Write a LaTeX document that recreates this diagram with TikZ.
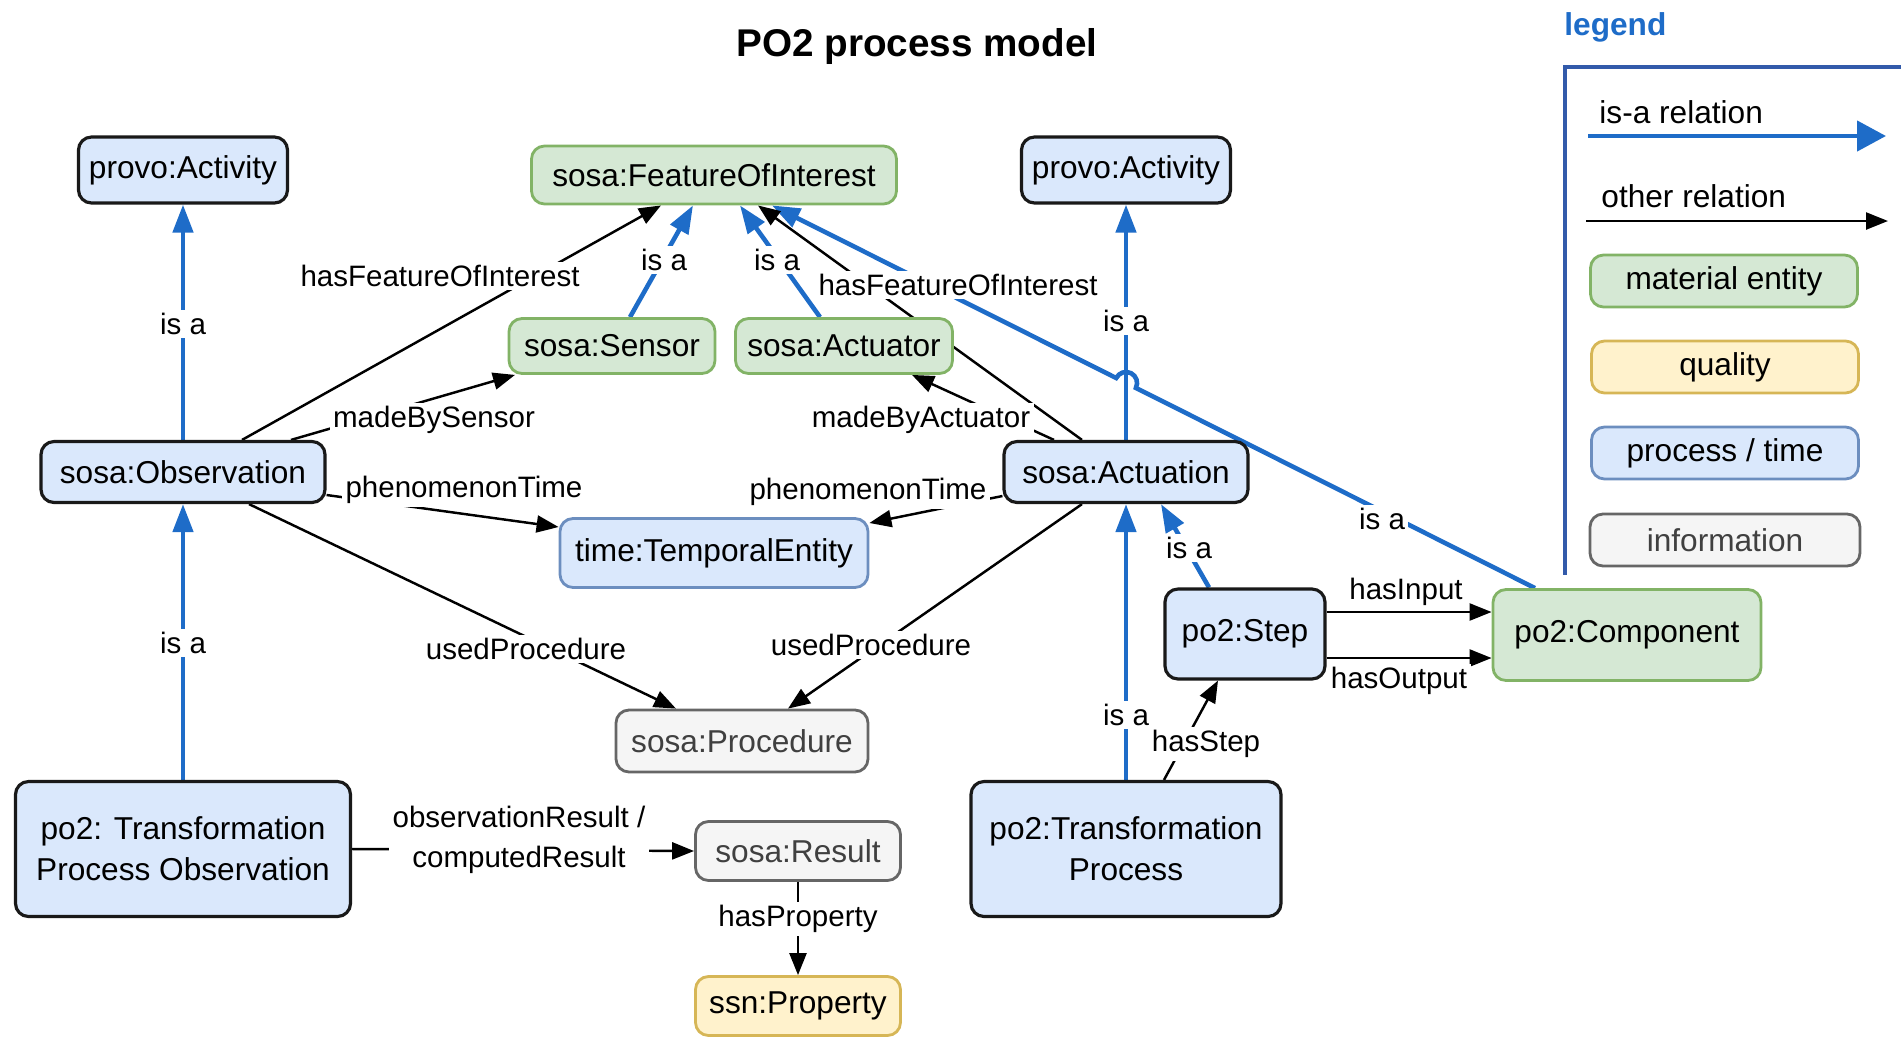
\documentclass[tikz,border=0pt]{standalone}
\usepackage{fontspec}
\setmainfont{Liberation Sans}
\definecolor{isablue}{RGB}{30,108,200}
\definecolor{legendblue}{RGB}{50,90,170}
\definecolor{bluefill}{HTML}{DAE8FC}
\definecolor{blueline}{HTML}{6C8EBF}
\definecolor{greenfill}{HTML}{D5E8D4}
\definecolor{greenline}{HTML}{82B366}
\definecolor{yellowfill}{HTML}{FFF2CC}
\definecolor{yellowline}{HTML}{D6B656}
\definecolor{grayfill}{HTML}{F5F5F5}
\definecolor{grayline}{HTML}{666666}
\newcommand{\boxfont}{\fontsize{9}{11.6}\selectfont}
\newcommand{\lblfont}{\fontsize{8.4}{11.4}\selectfont}
\usetikzlibrary{
  arrows.meta,
  calc,
  backgrounds
}

\begin{document}
\begin{tikzpicture}[
  cls/.style={rounded corners=1.3mm, inner sep=0pt, align=center, font=\boxfont},
  wh/.style 2 args={minimum width=#1cm, minimum height=#2cm},
  procbox/.style={cls, draw=black!90, fill=bluefill, line width=0.9pt},
  timebox/.style={cls, draw=blueline, fill=bluefill, line width=0.8pt},
  matbox/.style={cls, draw=greenline, fill=greenfill, line width=0.8pt},
  qualbox/.style={cls, draw=yellowline, fill=yellowfill, line width=0.8pt},
  infobox/.style={cls, draw=grayline, fill=grayfill, line width=0.8pt, text=black!75},
  isa/.style={draw=isablue, line width=1.3pt, -{Triangle[length=2.8mm, width=2mm]}},
  rel/.style={draw=black, line width=0.7pt, -{Triangle[length=2.2mm, width=1.7mm]}},
  lbl/.style={fill=white, inner sep=1pt, font=\lblfont, align=center}
]
\useasboundingbox (0,0) rectangle (19.01,-10.47);

\node[font=\bfseries\fontsize{11}{13}\selectfont] (title) at (9.17,-0.46) {PO2 process model};

\node[procbox, wh={2.09}{0.66}] (actL) at (1.83,-1.70) {provo:Activity};
\node[matbox, wh={3.65}{0.58}] (foi) at (7.14,-1.75) {sosa:FeatureOfInterest};
\node[procbox, wh={2.09}{0.66}] (actR) at (11.26,-1.70) {provo:Activity};
\node[matbox, wh={2.06}{0.55}] (sensor) at (6.12,-3.46) {sosa:Sensor};
\node[matbox, wh={2.17}{0.55}] (actuator) at (8.44,-3.46) {sosa:Actuator};
\node[procbox, wh={2.84}{0.61}] (obs) at (1.83,-4.72) {sosa:Observation};
\node[procbox, wh={2.44}{0.61}] (actuation) at (11.26,-4.72) {sosa:Actuation};
\node[timebox, wh={3.08}{0.69}] (temporal) at (7.14,-5.53) {time:TemporalEntity};
\node[procbox, wh={1.60}{0.90}] (step) at (12.45,-6.34) {po2:Step};
\node[matbox, wh={2.68}{0.91}] (comp) at (16.27,-6.35) {po2:Component};
\node[infobox, wh={2.52}{0.62}] (proc) at (7.42,-7.41) {sosa:Procedure};
\node[procbox, wh={3.35}{1.35}] (tpo) at (1.83,-8.49) {po2: Transformation\\Process Observation};
\node[infobox, wh={2.05}{0.59}] (result) at (7.98,-8.51) {sosa:Result};
\node[procbox, wh={3.10}{1.35}] (tp) at (11.26,-8.49) {po2:Transformation\\Process};
\node[qualbox, wh={2.05}{0.59}] (prop) at (7.98,-10.06) {ssn:Property};

\coordinate (compTop) at ([xshift=-0.92cm]comp.north);
\coordinate (foiTip) at ([xshift=0.58cm]foi.south);
\coordinate (jump) at (intersection of compTop--foiTip and actR.south--actuation.north);

\begin{scope}[on background layer]
\draw[isa] (obs.north) -- (actL.south);
\draw[isa] (tpo.north) -- (obs.south);
\draw[isa] (actuation.north) -- (actR.south);
\draw[isa] (tp.north) -- (actuation.south);
\draw[isa] ([xshift=-0.36cm]step.north) -- ([xshift=0.35cm]actuation.south);
\draw[isa] ([xshift=0.18cm]sensor.north) -- ([xshift=-0.21cm]foi.south);
\draw[isa] ([xshift=-0.24cm]actuator.north) -- ([xshift=0.26cm]foi.south);
\draw[isa] let \p1=($(foiTip)-(compTop)$), \n1={atan2(\y1,\x1)}, \n2={\n1-180} in
  (compTop) -- ($(jump)!0.11cm!(compTop)$) arc[start angle=\n2, end angle=\n1, radius=0.11cm] -- (foiTip);

\draw[rel] ([xshift=0.59cm]obs.north) -- ([xshift=-0.53cm]foi.south);
\draw[rel] ([xshift=-0.44cm]actuation.north) -- ([xshift=0.44cm]foi.south);
\draw[rel] ([xshift=1.08cm]obs.north) -- ([xshift=-0.97cm]sensor.south);
\draw[rel] ([xshift=-0.72cm]actuation.north) -- ([xshift=0.68cm]actuator.south);
\draw[rel] ([yshift=-0.23cm]obs.east) -- ([yshift=0.26cm]temporal.west);
\draw[rel] ([yshift=-0.24cm]actuation.west) -- ([yshift=0.30cm]temporal.east);
\draw[rel] ([xshift=0.66cm]obs.south) -- ([xshift=-0.66cm]proc.north);
\draw[rel] ([xshift=-0.44cm]actuation.south) -- ([xshift=0.46cm]proc.north);
\draw[rel] (tpo.east) -- (result.west);
\draw[rel] (result.south) -- (prop.north);
\draw[rel] ([xshift=0.38cm]tp.north) -- ([xshift=-0.27cm]step.south);
\draw[rel] ([yshift=0.22cm]step.east) -- ([yshift=0.22cm]step.east -| comp.west);
\draw[rel] ([yshift=-0.24cm]step.east) -- ([yshift=-0.24cm]step.east -| comp.west);
\end{scope}

\node[lbl] (isa1) at (1.83,-3.24) {is a};
\node[lbl] (isa2) at (1.83,-6.43) {is a};
\node[lbl] (isa3) at (11.26,-3.21) {is a};
\node[lbl] (isa4) at (11.26,-7.15) {is a};
\node[lbl] (isa5) at (11.89,-5.48) {is a};
\node[lbl] (isa6) at (13.82,-5.19) {is a};
\node[lbl] (isa7) at (6.64,-2.60) {is a};
\node[lbl] (isa8) at (7.77,-2.60) {is a};
\node[lbl] (hfoiL) at (4.40,-2.76) {hasFeatureOfInterest};
\node[lbl] (hfoiR) at (9.58,-2.85) {hasFeatureOfInterest};
\node[lbl] (mbs) at (4.34,-4.20) {madeBySensor};
\node[lbl] (mba) at (9.21,-4.20) {madeByActuator};
\node[lbl] (ptL) at (4.64,-4.90) {phenomenonTime};
\node[lbl] (ptR) at (8.68,-4.92) {phenomenonTime};
\node[lbl] (upL) at (5.26,-6.49) {usedProcedure};
\node[lbl] (upR) at (8.71,-6.45) {usedProcedure};
\node[lbl] (ores) at (5.19,-8.40) {observationResult /\\computedResult};
\node[lbl] (hprop) at (7.98,-9.19) {hasProperty};
\node[lbl] (hstep) at (12.06,-7.44) {hasStep};
\node[lbl] (hin) at (14.06,-5.92) {hasInput};
\node[lbl] (hout) at (13.99,-6.81) {hasOutput};

% legend
\draw[legendblue, line width=1pt] (15.65,-0.67) -- (19.01,-0.67);
\draw[legendblue, line width=1pt] (15.65,-0.65) -- (15.65,-5.75);
\node[anchor=west, text=isablue, font=\bfseries\fontsize{9}{11}\selectfont] (legtitle) at (15.52,-0.27) {legend};
\node[anchor=west, font=\boxfont] (legisa) at (15.87,-1.12) {is-a relation};
\node[anchor=west, font=\boxfont] (legrel) at (15.89,-1.96) {other relation};
\coordinate (isaL) at (15.88,-1.36);
\coordinate (isaR) at (18.86,-1.36);
\coordinate (relL) at (15.86,-2.21);
\coordinate (relR) at (18.88,-2.21);
\draw[isa, -{Triangle[length=2.9mm, width=3mm]}] (isaL) -- (isaR);
\draw[rel] (relL) -- (relR);
\node[matbox, wh={2.67}{0.52}] (legmat) at (17.24,-2.81) {material entity};
\node[qualbox, wh={2.67}{0.52}] (legqual) at (17.25,-3.67) {quality};
\node[timebox, wh={2.67}{0.52}] (legtime) at (17.25,-4.53) {process / time};
\node[infobox, wh={2.70}{0.52}] (leginfo) at (17.25,-5.40) {information};

\end{tikzpicture}
\end{document}
